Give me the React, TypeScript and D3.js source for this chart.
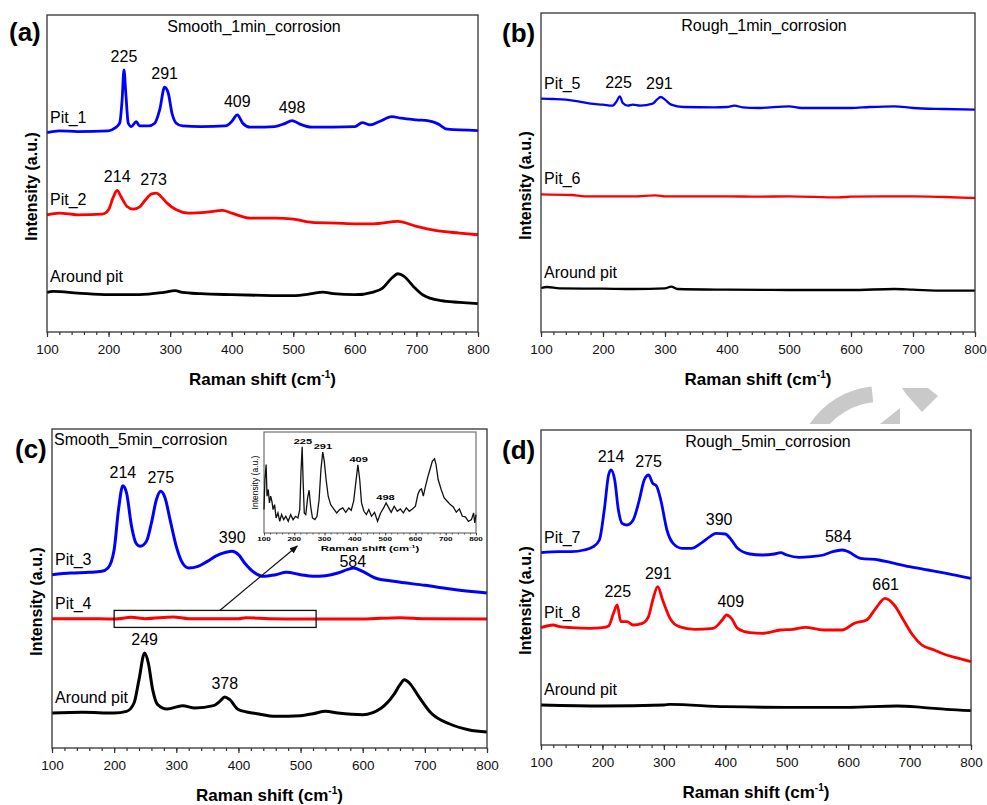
import React, { useEffect, useRef } from "react";
import * as d3 from "d3";

type Pt = [number, number];

const FONT = "'Liberation Sans', Arial, Helvetica, sans-serif";

// x axis ticks (Raman shift, cm-1)
const ramanTicks = [100, 200, 300, 400, 500, 600, 700, 800];

// (a) Smooth_1min_corrosion
const smooth1Names = ["Pit_1", "Pit_2", "Around pit"];
const smooth1Pit1: Pt[] = [
  [100, 599], [120, 604], [150, 602], [200, 604], [210, 612], [218, 627], [222, 697], [225, 787],
  [228, 717], [232, 627], [237, 617], [245, 632], [250, 619], [265, 619], [275, 627], [283, 667],
  [291, 735], [297, 717], [303, 657], [310, 627], [320, 619], [350, 617], [390, 619], [400, 632],
  [409, 652], [418, 627], [430, 615], [470, 617], [485, 625], [498, 635], [510, 625], [530, 615],
  [600, 617], [612, 629], [625, 622], [640, 632], [660, 647], [675, 642], [700, 637], [720, 634],
  [735, 625], [750, 609], [800, 605],
];
const smooth1Pit2: Pt[] = [
  [100, 352], [120, 357], [150, 352], [190, 354], [200, 367], [207, 402], [214, 425], [220, 407],
  [230, 377], [240, 369], [250, 375], [260, 397], [270, 415], [278, 417], [285, 407], [295, 387],
  [310, 367], [330, 357], [360, 360], [385, 365], [400, 357], [430, 342], [470, 342], [500, 339],
  [530, 329], [570, 327], [600, 325], [630, 325], [670, 332], [700, 317], [730, 305], [770, 297],
  [800, 292],
];
const smooth1Around: Pt[] = [
  [100, 119], [110, 122], [150, 117], [200, 112], [250, 112], [290, 119], [308, 124], [320, 119],
  [350, 115], [400, 112], [450, 110], [500, 109], [530, 115], [548, 120], [565, 115], [600, 112],
  [630, 120], [645, 132], [660, 162], [670, 175], [680, 167], [695, 137], [710, 112], [740, 94],
  [770, 89], [800, 85],
];
const smooth1Pit1Peaks = [225, 291, 409, 498];
const smooth1Pit2Peaks = [214, 273];

// (b) Rough_1min_corrosion
const rough1Names = ["Pit_5", "Pit_6", "Around pit"];
const rough1Pit5: Pt[] = [
  [100, 700], [120, 699], [140, 697], [160, 692], [180, 685], [200, 682], [215, 679], [222, 692],
  [227, 707], [232, 687], [240, 679], [248, 682], [260, 679], [280, 685], [287, 697], [293, 705],
  [300, 697], [310, 682], [330, 675], [380, 674], [400, 675], [412, 679], [425, 674], [450, 672],
  [500, 677], [520, 672], [560, 672], [600, 672], [630, 675], [670, 677], [700, 672], [750, 669],
  [800, 667],
];
const rough1Pit6: Pt[] = [
  [100, 413], [150, 411], [170, 407], [200, 407], [250, 407], [285, 410], [300, 407], [350, 407],
  [400, 407], [450, 406], [500, 407], [580, 404], [600, 406], [650, 407], [700, 407], [750, 405],
  [800, 402],
];
const rough1Around: Pt[] = [
  [100, 132], [110, 135], [130, 131], [200, 130], [250, 129], [300, 131], [310, 136], [320, 129],
  [400, 127], [500, 126], [600, 126], [670, 129], [700, 127], [750, 124], [800, 124],
];
const rough1Pit5Peaks = [225, 291];

// (c) Smooth_5min_corrosion
const smooth5Names = ["Pit_3", "Pit_4", "Around pit"];
const smooth5Pit3: Pt[] = [
  [100, 520], [130, 525], [160, 527], [180, 530], [190, 540], [200, 595], [207, 715], [214, 787],
  [220, 765], [228, 665], [235, 615], [242, 605], [252, 620], [260, 675], [268, 745], [275, 770],
  [282, 750], [290, 685], [300, 605], [310, 555], [320, 540], [335, 545], [350, 560], [365, 577],
  [380, 587], [390, 590], [400, 580], [410, 555], [425, 527], [440, 515], [460, 520], [477, 527],
  [500, 520], [520, 515], [540, 517], [560, 525], [575, 535], [585, 540], [600, 530], [620, 510],
  [650, 500], [700, 488], [750, 475], [800, 465],
];
const smooth5Pit4: Pt[] = [
  [100, 388], [150, 388], [200, 387], [228, 392], [250, 388], [295, 393], [320, 388], [400, 388],
  [412, 391], [450, 388], [500, 387], [600, 387], [660, 391], [700, 388], [800, 387],
];
const smooth5Around: Pt[] = [
  [100, 105], [150, 107], [200, 105], [220, 110], [232, 135], [240, 205], [249, 285], [255, 255],
  [262, 175], [270, 130], [285, 117], [310, 127], [330, 120], [360, 127], [370, 140], [378, 153],
  [386, 145], [400, 115], [430, 103], [460, 95], [500, 97], [520, 103], [540, 110], [560, 105],
  [600, 100], [630, 120], [650, 160], [660, 190], [667, 205], [675, 195], [690, 155], [710, 105],
  [740, 72], [770, 55], [800, 48],
];
const smooth5Pit3Peaks = [214, 275, 390, 584];
const smooth5AroundPeaks = [249, 378];
// inset: zoom of Pit_4, 200-525 cm-1 box
const insetSpectrum: Pt[] = [
  [100, 70], [103, 160], [107, 205], [110, 110], [114, 130], [118, 90], [122, 110], [126, 95],
  [130, 70], [135, 85], [140, 45], [146, 60], [152, 35], [158, 55], [165, 40], [172, 50],
  [180, 35], [188, 55], [196, 40], [204, 50], [212, 45], [218, 70], [222, 180], [226, 258],
  [229, 160], [233, 60], [238, 55], [244, 105], [249, 128], [254, 80], [260, 45], [268, 40],
  [275, 50], [282, 100], [288, 190], [294, 242], [299, 215], [305, 160], [312, 110], [320, 85],
  [330, 72], [340, 60], [350, 70], [360, 75], [370, 62], [380, 75], [388, 68], [396, 95],
  [403, 150], [410, 204], [416, 160], [422, 90], [430, 65], [438, 55], [446, 70], [455, 50],
  [465, 62], [475, 35], [485, 60], [495, 75], [503, 90], [512, 75], [520, 62], [530, 80],
  [540, 65], [550, 72], [560, 60], [570, 75], [580, 65], [590, 72], [600, 80], [608, 115],
  [614, 128], [620, 132], [626, 110], [632, 135], [640, 165], [648, 190], [656, 215], [663, 222],
  [668, 205], [675, 160], [685, 130], [695, 105], [705, 95], [715, 85], [725, 78], [735, 62],
  [745, 72], [755, 50], [765, 48], [775, 35], [785, 40], [792, 60], [796, 30], [800, 55],
];
const insetPeaks = [225, 291, 409, 498];
const insetBox = [200, 525];

// (d) Rough_5min_corrosion
const rough5Names = ["Pit_7", "Pit_8", "Around pit"];
const rough5Pit7: Pt[] = [
  [100, 577], [130, 580], [150, 580], [170, 585], [185, 595], [195, 615], [203, 705], [210, 810],
  [214, 825], [220, 795], [226, 705], [232, 665], [240, 660], [250, 675], [260, 735], [268, 795],
  [275, 810], [282, 785], [288, 777], [295, 735], [305, 645], [315, 605], [330, 590], [345, 590],
  [360, 605], [375, 625], [385, 635], [400, 633], [410, 615], [420, 590], [440, 573], [460, 570],
  [480, 573], [490, 577], [500, 570], [520, 563], [540, 565], [560, 570], [575, 580], [590, 585],
  [600, 580], [620, 560], [650, 555], [670, 547], [700, 535], [730, 525], [760, 515], [800, 500],
];
const rough5Pit8: Pt[] = [
  [100, 352], [120, 360], [130, 355], [150, 352], [180, 350], [200, 352], [210, 357], [218, 395],
  [224, 420], [230, 370], [240, 370], [250, 360], [265, 365], [275, 385], [282, 435], [290, 475],
  [298, 435], [310, 380], [325, 355], [350, 347], [380, 350], [395, 375], [402, 390], [410, 380],
  [420, 350], [440, 337], [460, 335], [490, 345], [510, 347], [530, 353], [560, 345], [590, 345],
  [610, 365], [630, 375], [645, 410], [660, 440], [675, 420], [690, 375], [705, 330], [720, 300],
  [740, 285], [760, 270], [780, 260], [800, 250],
];
const rough5Around: Pt[] = [
  [100, 120], [200, 117], [300, 120], [310, 122], [400, 115], [500, 113], [600, 113], [680, 117],
  [720, 113], [760, 107], [800, 103],
];
const rough5Pit7Peaks = [214, 275, 390, 584];
const rough5Pit8Peaks = [225, 291, 409, 661];

const colors = ["#0000ff", "#ff0000", "#000000"];

interface Series { name: string; color: string; data: Pt[]; peaks: number[] }
interface Panel {
  x0: number; x1: number; y0: number; y1: number; yMax: number; lw: number;
  tag: string; tagX: number; tagY: number;
  title: string; titleX: number; titleY: number; titleAnchor: string;
  series: Series[];
}

const mk = (names: string[], data: Pt[][], peaks: number[][]): Series[] =>
  names.map((n, i) => ({ name: n, color: colors[i], data: data[i], peaks: peaks[i] }));

const panels: Panel[] = [
  {
    x0: 47, x1: 478, y0: 15, y1: 332, yMax: 952, lw: 2.8,
    tag: "(a)", tagX: 9, tagY: 41,
    title: "Smooth_1min_corrosion", titleX: 254, titleY: 32, titleAnchor: "middle",
    series: mk(smooth1Names, [smooth1Pit1, smooth1Pit2, smooth1Around], [smooth1Pit1Peaks, smooth1Pit2Peaks, []]),
  },
  {
    x0: 541, x1: 975, y0: 13, y1: 332, yMax: 957, lw: 2.3,
    tag: "(b)", tagX: 502, tagY: 42,
    title: "Rough_1min_corrosion", titleX: 764, titleY: 31, titleAnchor: "middle",
    series: mk(rough1Names, [rough1Pit5, rough1Pit6, rough1Around], [rough1Pit5Peaks, [], []]),
  },
  {
    x0: 52, x1: 487, y0: 429, y1: 748, yMax: 957, lw: 3,
    tag: "(c)", tagX: 15, tagY: 458,
    title: "Smooth_5min_corrosion", titleX: 54, titleY: 445, titleAnchor: "start",
    series: mk(smooth5Names, [smooth5Pit3, smooth5Pit4, smooth5Around], [smooth5Pit3Peaks, [], smooth5AroundPeaks]),
  },
  {
    x0: 541, x1: 971, y0: 430, y1: 745, yMax: 945, lw: 2.8,
    tag: "(d)", tagX: 502, tagY: 459,
    title: "Rough_5min_corrosion", titleX: 768, titleY: 447, titleAnchor: "middle",
    series: mk(rough5Names, [rough5Pit7, rough5Pit8, rough5Around], [rough5Pit7Peaks, rough5Pit8Peaks, []]),
  },
];

// gap between a peak top and its label, px (a few labels sit lower)
const labelGap = (tag: string, v: number) => (tag === "(c)" && v === 584 ? 1 : 8);

const peakValue = (data: Pt[], v: number) =>
  d3.max(data.filter((d) => Math.abs(d[0] - v) <= 10), (d) => d[1]) ?? 0;

const minorOf = (ticks: number[]) => d3.range(ticks[0], ticks[ticks.length - 1] + 1, 20);

export default function App() {
  const ref = useRef<SVGSVGElement>(null);

  useEffect(() => {
    const svg = d3.select(ref.current);
    svg.selectAll("*").remove();
    svg.append("rect").attr("width", 987).attr("height", 805).attr("fill", "#fff");

    // grey watermark behind panel (d)
    svg.append("clipPath").attr("id", "wmclip")
      .append("rect").attr("x", 780).attr("y", 380).attr("width", 200).attr("height", 44);
    const wm = svg.append("g").attr("clip-path", "url(#wmclip)").attr("fill", "#c9c9c9");
    wm.append("path")
      .attr("transform", "translate(880,470)")
      .attr("d", d3.arc()({ innerRadius: 68, outerRadius: 84, startAngle: -1.0, endAngle: -0.1 } as any) as string);
    wm.append("path").attr("d", "M880,424L900,408L900,424Z");
    wm.append("path").attr("d", "M902,388L928,388L938,396L922,412L906,394Z");

    panels.forEach((p) => {
      const g = svg.append("g");
      const x = d3.scaleLinear().domain([100, 800]).range([p.x0, p.x1]);
      const y = d3.scaleLinear().domain([0, p.yMax]).range([p.y1, p.y0]);

      g.append("rect")
        .attr("x", p.x0).attr("y", p.y0)
        .attr("width", p.x1 - p.x0).attr("height", p.y1 - p.y0)
        .attr("fill", "#fff");

      const line = d3.line<Pt>().x((d) => x(d[0])).y((d) => y(d[1])).curve(d3.curveMonotoneX);

      p.series.forEach((s) => {
        g.append("path")
          .datum(s.data)
          .attr("d", line)
          .attr("fill", "none")
          .attr("stroke", s.color)
          .attr("stroke-width", p.lw)
          .attr("stroke-linejoin", "round");

        g.append("text")
          .attr("x", p.x0 + 3)
          .attr("y", y(s.data[0][1]) - 10)
          .attr("font-family", FONT).attr("font-size", 16)
          .text(s.name);

        s.peaks.forEach((v) => {
          g.append("text")
            .attr("x", x(v))
            .attr("y", y(peakValue(s.data, v)) - labelGap(p.tag, v))
            .attr("text-anchor", "middle")
            .attr("font-family", FONT).attr("font-size", 16)
            .text(v);
        });
      });

      // frame
      g.append("rect")
        .attr("x", p.x0).attr("y", p.y0)
        .attr("width", p.x1 - p.x0).attr("height", p.y1 - p.y0)
        .attr("fill", "none").attr("stroke", "#333").attr("stroke-width", 1.3);

      // x axis
      const ax = g.append("g").attr("transform", `translate(0,${p.y1})`);
      ax.append("g").call(d3.axisBottom(x).tickValues(minorOf(ramanTicks)).tickSize(3).tickFormat(() => ""));
      ax.append("g").call(d3.axisBottom(x).tickValues(ramanTicks).tickSize(5).tickPadding(7).tickFormat(d3.format("d")));
      ax.selectAll(".domain").remove();
      ax.selectAll(".tick line").attr("stroke", "#333").attr("stroke-width", 1.2);
      ax.selectAll(".tick text").attr("font-family", FONT).attr("font-size", 13.5).attr("fill", "#111");

      // titles
      const xt = g.append("text")
        .attr("x", (p.x0 + p.x1) / 2).attr("y", p.y1 + 53)
        .attr("text-anchor", "middle")
        .attr("font-family", FONT).attr("font-size", 17).attr("font-weight", "bold");
      xt.append("tspan").text("Raman shift (cm");
      xt.append("tspan").attr("font-size", 10).attr("dy", -7).text("-1");
      xt.append("tspan").attr("dy", 7).text(")");

      g.append("text")
        .attr("transform", `translate(${p.x0 - 10},${(p.y0 + p.y1) / 2 + 13}) rotate(-90)`)
        .attr("text-anchor", "middle")
        .attr("font-family", FONT).attr("font-size", 16).attr("font-weight", "bold")
        .text("Intensity (a.u.)");

      g.append("text")
        .attr("x", p.titleX).attr("y", p.titleY)
        .attr("text-anchor", p.titleAnchor)
        .attr("font-family", FONT).attr("font-size", 16)
        .text(p.title);

      g.append("text")
        .attr("x", p.tagX).attr("y", p.tagY)
        .attr("font-family", FONT).attr("font-size", 26).attr("font-weight", "bold")
        .text(p.tag);

      // panel (c): zoom box, arrow, inset
      if (p.tag === "(c)") {
        const base = y(d3.mean(smooth5Pit4, (d) => d[1]) ?? 0);
        g.append("rect")
          .attr("x", x(insetBox[0])).attr("y", base - 8)
          .attr("width", x(insetBox[1]) - x(insetBox[0])).attr("height", 17)
          .attr("fill", "none").attr("stroke", "#111").attr("stroke-width", 1.3);

        const ix0 = 264, ix1 = 476, iy0 = 432, iy1 = 533;
        const ix = d3.scaleLinear().domain([100, 800]).range([ix0, ix1]);
        const iy = d3.scaleLinear().domain([0, 302]).range([iy1, iy0]);

        svg.append("defs").append("marker")
          .attr("id", "arrowhead").attr("viewBox", "0 0 10 10")
          .attr("refX", 9).attr("refY", 5)
          .attr("markerWidth", 7).attr("markerHeight", 7).attr("orient", "auto")
          .append("path").attr("d", "M0,1L10,5L0,9Z").attr("fill", "#111");
        g.append("line")
          .attr("x1", x(370)).attr("y1", base - 8)
          .attr("x2", ix(210)).attr("y2", iy1 + 13)
          .attr("stroke", "#111").attr("stroke-width", 1.2)
          .attr("marker-end", "url(#arrowhead)");

        const ig = g.append("g");
        ig.append("rect")
          .attr("x", ix0).attr("y", iy0).attr("width", ix1 - ix0).attr("height", iy1 - iy0)
          .attr("fill", "#fff").attr("stroke", "#555").attr("stroke-width", 1);
        ig.append("path")
          .datum(insetSpectrum)
          .attr("d", d3.line<Pt>().x((d) => ix(d[0])).y((d) => iy(d[1])))
          .attr("fill", "none").attr("stroke", "#111").attr("stroke-width", 1.3);

        insetPeaks.forEach((v) => {
          ig.append("text")
            .attr("transform", `translate(${ix(v) + 1},${iy(peakValue(insetSpectrum, v)) - 3}) scale(1.7,1)`)
            .attr("text-anchor", "middle")
            .attr("font-family", FONT).attr("font-size", 6.5).attr("font-weight", "bold")
            .text(v);
        });

        const iax = ig.append("g").attr("transform", `translate(0,${iy1})`);
        iax.append("g").call(d3.axisBottom(ix).tickValues(minorOf(ramanTicks)).tickSize(1.5).tickFormat(() => ""));
        iax.append("g").call(d3.axisBottom(ix).tickValues(ramanTicks).tickSize(2.5).tickFormat(() => ""));
        iax.selectAll(".domain").remove();
        iax.selectAll(".tick line").attr("stroke", "#333").attr("stroke-width", 0.8);
        ramanTicks.forEach((t) => {
          ig.append("text")
            .attr("transform", `translate(${ix(t)},${iy1 + 8}) scale(1.35,1)`)
            .attr("text-anchor", "middle")
            .attr("font-family", FONT).attr("font-size", 6).attr("font-weight", "bold")
            .text(t);
        });
        const it = ig.append("text")
          .attr("transform", `translate(${(ix0 + ix1) / 2},${iy1 + 17.5}) scale(1.75,1)`)
          .attr("text-anchor", "middle")
          .attr("font-family", FONT).attr("font-size", 6.5).attr("font-weight", "bold");
        it.append("tspan").text("Raman shift (cm");
        it.append("tspan").attr("font-size", 4).attr("dy", -2.5).text("-1");
        it.append("tspan").attr("dy", 2.5).text(")");
        ig.append("text")
          .attr("transform", `translate(${ix0 - 6},${(iy0 + iy1) / 2}) rotate(-90)`)
          .attr("text-anchor", "middle")
          .attr("font-family", FONT).attr("font-size", 8.5)
          .text("Intensity (a.u.)");
      }
    });
  }, []);

  return (
    <svg
      ref={ref}
      width={987}
      height={805}
      style={{ position: "absolute", left: 0, top: 0, display: "block" }}
    />
  );
}
